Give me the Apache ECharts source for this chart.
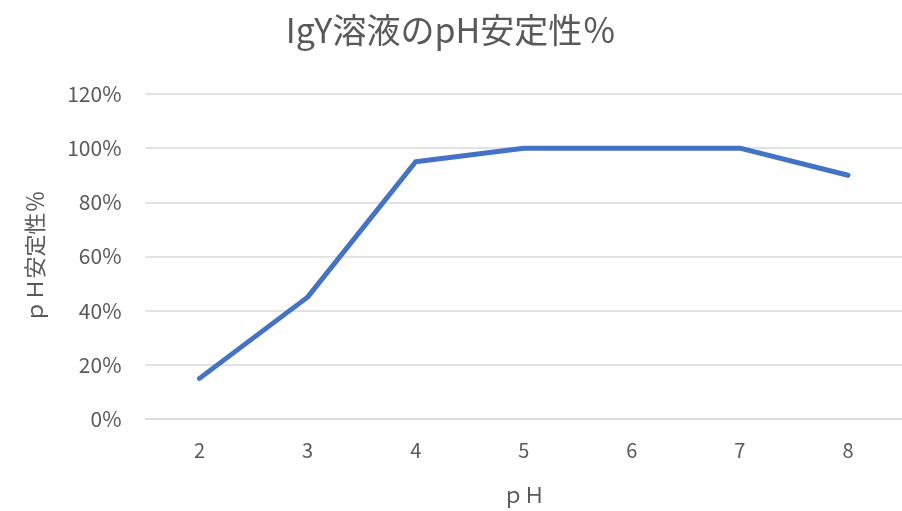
<!DOCTYPE html>
<html>
<head>
<meta charset="utf-8">
<script src="https://cdn.jsdelivr.net/npm/echarts@6/dist/echarts.min.js"></script>
<style>
  html, body { margin: 0; padding: 0; background: #fff; }
  #chart { width: 902px; height: 511px; }
</style>
</head>
<body>
<div id="chart"></div>
<script>
// pH values tested and the remaining IgY stability (%) at each
const phLevels = ['2', '3', '4', '5', '6', '7', '8'];
const stabilityPct = [15, 45, 95, 100, 100, 100, 90];

const titleText = 'IgY溶液のpH安定性％';
const xAxisName = 'ｐＨ';
const yAxisName = 'ｐＨ安定性％';

const FONT = '"Noto Sans CJK JP", "Noto Sans", sans-serif';
const TEXT_COLOR = '#595959';

const chart = echarts.init(document.getElementById('chart'), null, { renderer: 'canvas' });

chart.setOption({
  animation: false,
  backgroundColor: '#ffffff',
  title: {
    text: titleText,
    left: 'center',
    top: 8,
    textStyle: {
      fontFamily: FONT,
      fontSize: 34,
      fontWeight: 'normal',
      color: TEXT_COLOR
    }
  },
  grid: {
    left: 145.5,
    width: 761,
    top: 94,
    height: 327,
    containLabel: false
  },
  xAxis: {
    type: 'category',
    data: phLevels,
    boundaryGap: true,
    name: xAxisName,
    nameLocation: 'middle',
    nameGap: 66,
    nameTextStyle: { fontFamily: FONT, fontSize: 21, color: TEXT_COLOR },
    axisLine: { show: true, lineStyle: { color: '#d9d9d9', width: 1.5 } },
    axisTick: { show: false },
    axisLabel: {
      margin: 21,
      fontFamily: FONT,
      fontSize: 20,
      color: TEXT_COLOR
    }
  },
  yAxis: {
    type: 'value',
    min: 0,
    max: 120,
    interval: 20,
    name: yAxisName,
    nameLocation: 'middle',
    nameGap: 100,
    nameRotate: 90,
    nameTextStyle: { fontFamily: FONT, fontSize: 22, color: TEXT_COLOR },
    axisLine: { show: false },
    axisTick: { show: false },
    axisLabel: {
      margin: 24,
      fontFamily: FONT,
      fontSize: 21,
      color: TEXT_COLOR,
      formatter: v => v + '%'
    },
    splitLine: { lineStyle: { color: '#d9d9d9', width: 1.5 } }
  },
  series: [{
    type: 'line',
    data: stabilityPct,
    symbol: 'none',
    lineStyle: { color: '#4472c4', width: 5, cap: 'round', join: 'round' }
  }]
});
</script>
</body>
</html>
